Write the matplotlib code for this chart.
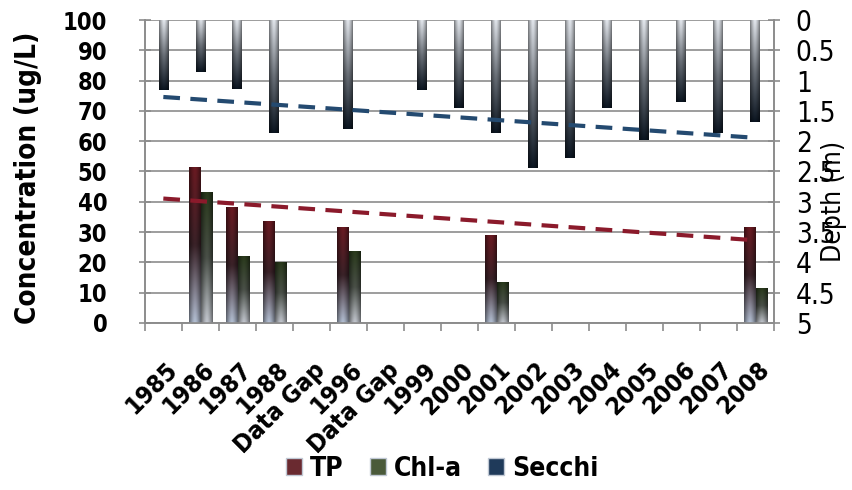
import matplotlib
matplotlib.use('Agg')
import matplotlib.pyplot as plt
import numpy as np
from matplotlib.patches import Patch
from matplotlib.colors import to_rgb

plt.rcParams['font.family'] = ['DejaVu Sans']
plt.rcParams['font.stretch'] = 'condensed'

years = ['1985', '1986', '1987', '1988', 'Data Gap', '1996', 'Data Gap', '1999',
         '2000', '2001', '2002', '2003', '2004', '2005', '2006', '2007', '2008']
tp = [np.nan, 51.5, 38, 33.5, np.nan, 31.7, np.nan, np.nan,
      np.nan, 29, np.nan, np.nan, np.nan, np.nan, np.nan, np.nan, 31.7]
chla = [np.nan, 43, 22, 20, np.nan, 23.5, np.nan, np.nan,
        np.nan, 13.5, np.nan, np.nan, np.nan, np.nan, np.nan, np.nan, 11.5]
secchi = [1.15, 0.86, 1.14, 1.87, np.nan, 1.8, np.nan, 1.15,
          1.45, 1.87, 2.45, 2.28, 1.45, 1.98, 1.35, 1.87, 1.68]


def grad_bar(ax, xc, w, y0, y1, c_start, c_mid, c_end):
    # vertical gradient from y0 to y1, darker at the edges
    n = 64
    t = np.linspace(0, 1, n)[:, None]
    a, b, c = np.array(to_rgb(c_start)), np.array(to_rgb(c_mid)), np.array(to_rgb(c_end))
    col = np.where(t[..., None] < 0.5, a + (b - a) * (t[..., None] * 2),
                   b + (c - b) * (t[..., None] * 2 - 1))
    u = np.linspace(-1, 1, 16)[None, :, None]
    shade = 1 - 0.45 * np.abs(u) ** 1.5
    img = np.clip(col * shade, 0, 1)
    ax.imshow(img, extent=(xc - w / 2, xc + w / 2, y0, y1), origin='lower',
              aspect='auto', interpolation='bilinear', zorder=3)


fig = plt.figure(figsize=(8.52, 4.9), dpi=100)
ax = fig.add_axes([0.170, 0.341, 0.738, 0.618])
ax2 = ax.twinx()

x = np.arange(len(years))
w = 0.3
for i in x:
    if not np.isnan(tp[i]):
        grad_bar(ax, i - 0.16, w, 0, tp[i], '#b4c0d4', '#3a2228', '#6a1a22')
    if not np.isnan(chla[i]):
        grad_bar(ax, i + 0.17, w, 0, chla[i], '#c4c8d0', '#4a5048', '#2a3a1c')
    if not np.isnan(secchi[i]):
        grad_bar(ax2, i, 0.26, 0, secchi[i], '#e4e8ee', '#6a7078', '#0c1622')

# linear trend lines
m = ~np.isnan(tp)
k, b = np.polyfit(x[m], np.array(tp)[m], 1)
ax.plot(x, k * x + b, color='#8b1a2b', lw=3, ls=(0, (4, 2.5)), zorder=5)
m = ~np.isnan(secchi)
k, b = np.polyfit(x[m], np.array(secchi)[m], 1)
ax2.plot(x, k * x + b, color='#244a70', lw=3, ls=(0, (4, 2.5)), zorder=5)

ax.set_xlim(-0.5, len(years) - 0.5)
ax.set_ylim(0, 100)
ax.set_yticks(range(0, 101, 10))
ax2.set_ylim(5, 0)
ax2.set_yticks(np.arange(0, 5.01, 0.5))
ax2.set_yticklabels(['0', '0.5', '1', '1.5', '2', '2.5', '3', '3.5', '4', '4.5', '5'])

ax.grid(axis='y', color='#8c8c8c', lw=1.2, zorder=0)
ax.set_axisbelow(True)
for a in (ax, ax2):
    for s in a.spines.values():
        s.set_color('#8c8c8c')
        s.set_linewidth(1.2)
ax.spines['top'].set_visible(False)
ax2.spines['top'].set_visible(False)

ax.set_xticks(np.arange(-0.5, len(years), 1), minor=False)
ax.set_xticklabels([])
ax.set_xticks(x + 0.05, minor=True)
ax.set_xticklabels(years, minor=True, rotation=45, ha='right', va='top',
                   rotation_mode='anchor', fontsize=18, fontweight='bold')
ax.tick_params(axis='x', which='major', length=6, color='#8c8c8c', width=1.2)
ax.tick_params(axis='x', which='minor', length=0, pad=25)
ax.tick_params(axis='y', direction='inout', length=8, color='#8c8c8c', width=1.2,
               labelsize=17, pad=23)
for t in ax.get_yticklabels():
    t.set_fontweight('bold')
ax2.tick_params(axis='y', direction='inout', length=8, color='#8c8c8c', width=1.2,
                labelsize=20, pad=12)

ax.set_ylabel('Concentration (ug/L)', fontsize=20, fontweight='bold')
ax.yaxis.set_label_coords(-0.164, 0.478)
ax2.set_ylabel('Depth (m)', fontsize=19)
ax2.yaxis.set_label_coords(1.076, 0.40)

handles = [Patch(facecolor='#6a2a30', edgecolor='#c0c8d4', label='TP'),
           Patch(facecolor='#4a5a3a', edgecolor='#c0c8d4', label='Chl-a'),
           Patch(facecolor='#1f3a5a', edgecolor='#c0c8d4', label='Secchi')]
fig.legend(handles=handles, loc='center', bbox_to_anchor=(0.519, 0.043), ncol=3,
           frameon=False, prop={'size': 19, 'weight': 'bold', 'stretch': 'condensed'},
           handlelength=0.6, handleheight=0.6, handletextpad=0.3, columnspacing=1.0)

fig.savefig('out.png', dpi=100)
